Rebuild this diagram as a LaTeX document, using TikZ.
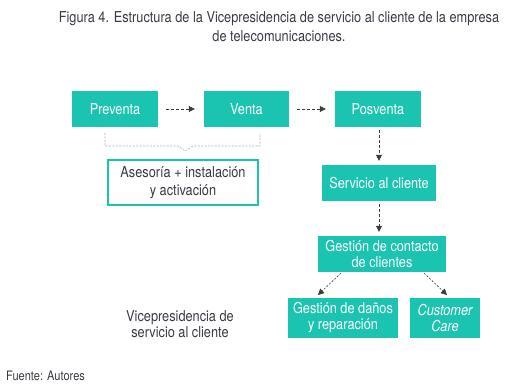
\documentclass[tikz,border=0pt]{standalone}
\usepackage{fontspec}
\setmainfont[FakeStretch=0.85]{TeX Gyre Heros}
\usetikzlibrary{arrows.meta}
\definecolor{vpteal}{HTML}{1BC4B1}
\definecolor{vptext}{HTML}{3A3A44}
\definecolor{vparrow}{HTML}{3C3C3C}
\begin{document}
\begin{tikzpicture}[
    x=1pt, y=-1pt,
    >={Triangle[length=6pt,width=6pt]},
    font=\fontsize{15}{16}\selectfont,
    area/.style={
        fill=vpteal, text=white, rectangle, inner sep=0pt,
        minimum height=36pt, align=center
    },
    extra/.style={
        draw=vpteal, line width=2pt, fill=white, text=vptext, rectangle,
        inner sep=0pt, minimum width=150pt, minimum height=45pt, align=center,
        font=\fontsize{15}{18}\selectfont
    },
    flow/.style={->, vparrow, semithick, dash pattern=on 3pt off 2pt},
    branch/.style={->, vparrow, semithick, dash pattern=on 2pt off 1.6pt},
    group/.style={draw=gray!60, semithick, dash pattern=on 2pt off 1.4pt}
]
\useasboundingbox (0,0) rectangle (506,387);

% titulo y fuente
\node[text=vptext, align=center, font=\fontsize{15}{19}\selectfont] (titulo) at (279,27)
    {Figura 4. Estructura de la Vicepresidencia de servicio al cliente de la empresa\\de telecomunicaciones.};
\node[text=vptext, anchor=west, inner sep=0pt, font=\fontsize{13}{14}\selectfont] (fuente) at (6,376) {Fuente: Autores};

% etapas
\node[area, minimum width=86pt] (preventa) at (115,109) {Preventa};
\node[area, minimum width=85pt] (venta) at (246.5,109) {Venta};
\node[area, minimum width=86pt] (posventa) at (378,109) {Posventa};

\node[extra] (asesoria) at (183,182.5) {Asesoría + instalación\\y activación};

\node[area, minimum width=114pt] (servicio) at (379,183) {Servicio al cliente};
\node[area, minimum width=128pt] (contacto) at (382,254) {Gestión de contacto\\de clientes};
\node[area, minimum width=110pt, minimum height=40pt] (danos) at (343,318) {Gestión de daños\\y reparación};
\node[area, minimum width=70pt, minimum height=40pt, font=\fontsize{15}{16}\selectfont\itshape] (care) at (445,318) {Customer\\Care};

\node[text=vptext, align=center] (vice) at (180,324) {Vicepresidencia de\\servicio al cliente};

% llave punteada sobre preventa y venta
\coordinate (llaveA) at (105,133);
\coordinate (llaveB) at (260,133);
\draw[group] (llaveA) -- (105,146) -- (178,146) -- (185,151) -- (193,146) -- (260,146) -- (llaveB);

% flechas
\draw[flow, shorten <=8pt, shorten >=9pt] (preventa) -- (venta);
\draw[flow, shorten <=8pt, shorten >=9pt] (venta) -- (posventa);
\draw[flow, shorten <=3pt, shorten >=4pt] (posventa.south -| servicio) -- (servicio);
\draw[flow, shorten <=3pt, shorten >=4pt] (servicio) -- (servicio |- contacto.north);
\draw[branch] (341,273) -- (318,295);
\draw[branch] (424,273) -- (447,295);
\end{tikzpicture}
\end{document}
